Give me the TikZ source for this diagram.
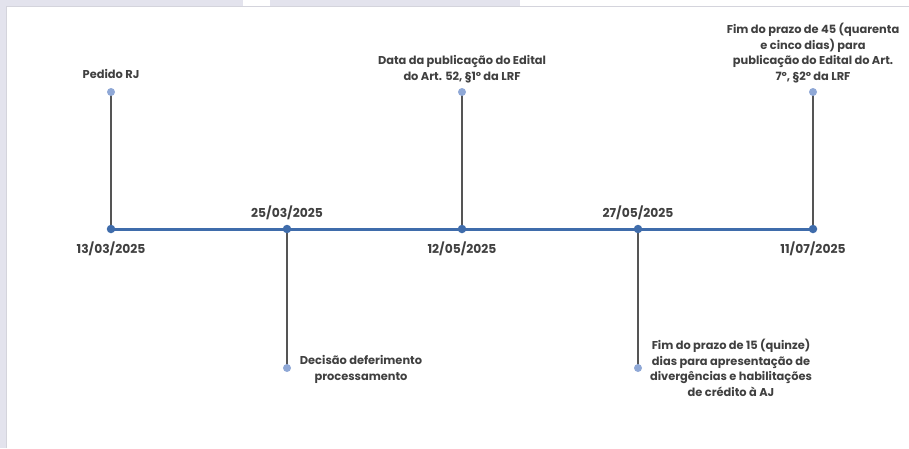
\documentclass[tikz,border=0pt]{standalone}
\usepackage{fontspec}
\setmainfont{Poppins}
\definecolor{frame}{HTML}{E3E3ED}
\definecolor{frameline}{HTML}{D4D4DC}
\definecolor{axis}{HTML}{3F6CAB}
\definecolor{tip}{HTML}{8FA8D6}
\definecolor{stem}{HTML}{555555}
\definecolor{txt}{HTML}{404040}
\begin{document}
\begin{tikzpicture}[x=1pt,y=-1pt,
  lbl/.style={font=\fontsize{11.4}{15.5}\selectfont\bfseries, text=txt, align=center, inner sep=0pt},
  datelbl/.style={font=\fontsize{12.3}{15.5}\selectfont\bfseries, text=txt, inner sep=0pt},
  stemline/.style={draw=stem, line width=1.2pt},
  axisline/.style={draw=axis, line width=3pt},
  bigdot/.style={circle, fill=axis, inner sep=0pt, minimum size=8.5pt},
  smalldot/.style={circle, fill=tip, inner sep=0pt, minimum size=8pt}]
\useasboundingbox (0,0) rectangle (909,448);
% frame
\fill[frame] (0,0) rectangle (6,448);
\fill[frame] (0,0) rectangle (243,6);
\fill[frame] (270,0) rectangle (520,6);
\draw[frameline, line width=1pt] (6.5,448) -- (6.5,6.5) -- (909,6.5);
% axis points
\coordinate (p1) at (111,229);
\coordinate (p2) at (287,229);
\coordinate (p3) at (462,229);
\coordinate (p4) at (638,229);
\coordinate (p5) at (813,229);
\coordinate (t1) at (111,92);
\coordinate (t2) at (287,368);
\coordinate (t3) at (462,92);
\coordinate (t4) at (638,368);
\coordinate (t5) at (813,92);
\foreach \i in {1,...,5} {\draw[stemline] (p\i) -- (t\i);}
\draw[axisline] (p1) -- (p5);
\foreach \i in {1,...,5} {\node[bigdot] (d\i) at (p\i) {}; \node[smalldot] (s\i) at (t\i) {};}
% dates
\node[datelbl, anchor=base] (date1) at (111,253.5) {13/03/2025};
\node[datelbl, anchor=base] (date2) at (287,217.5) {25/03/2025};
\node[datelbl, anchor=base] (date3) at (462,253.5) {12/05/2025};
\node[datelbl, anchor=base] (date4) at (638,217.5) {27/05/2025};
\node[datelbl, anchor=base] (date5) at (813,253.5) {11/07/2025};
% event labels (base = baseline of last line)
\node[lbl, anchor=base] (e1) at (111,78.5) {Pedido RJ};
\node[lbl, anchor=base] (e3) at (462,80) {Data da publicação do Edital\\do Art. 52, §1º da LRF};
\node[lbl, anchor=base] (e5) at (813,80) {Fim do prazo de 45 (quarenta\\e cinco dias) para\\publicação do Edital do Art.\\7º, §2º da LRF};
\node[lbl, anchor=base] (e2) at (361,380) {Decisão deferimento\\processamento};
\node[lbl, anchor=base] (e4) at (731,396) {Fim do prazo de 15 (quinze)\\dias para apresentação de\\divergências e habilitações\\de crédito à AJ};
\end{tikzpicture}
\end{document}
